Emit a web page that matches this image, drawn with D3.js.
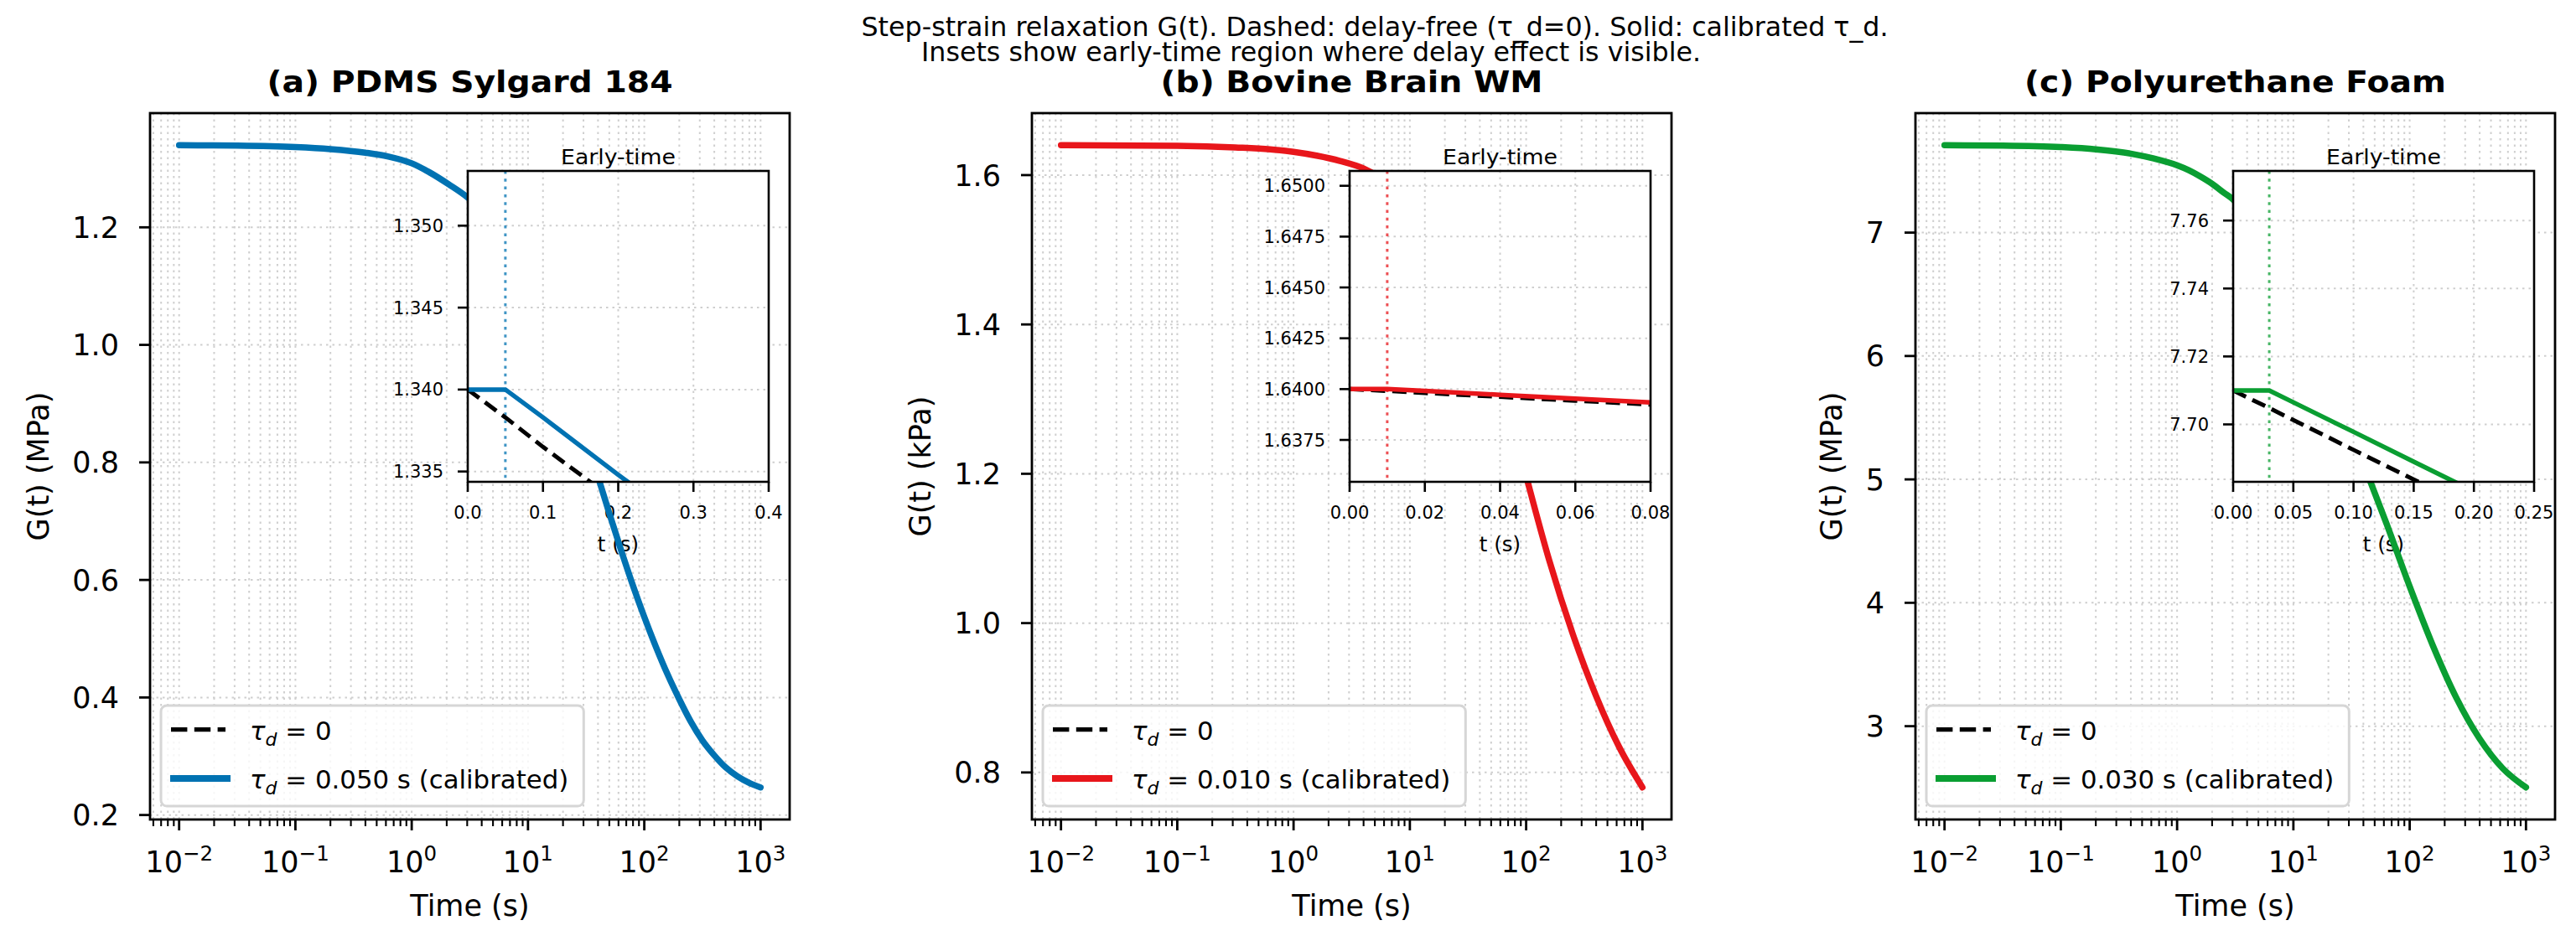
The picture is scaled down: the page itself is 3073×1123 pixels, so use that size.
<!DOCTYPE html>
<html><head><meta charset="utf-8">
<script src="https://cdn.jsdelivr.net/npm/d3@7"></script>
<style>
body{margin:0;background:#fff}
svg{display:block}
text{font-family:"DejaVu Sans",sans-serif;fill:#000}
</style>
</head><body>
<svg id="chart" width="3073" height="1123"></svg>
<script>
// ---------------- data ----------------
const suptitleLines = [
  "Step-strain relaxation G(t). Dashed: delay-free (\u03c4_d=0). Solid: calibrated \u03c4_d.",
  "Insets show early-time region where delay effect is visible."
];
const panelTitles = ["(a) PDMS Sylgard 184", "(b) Bovine Brain WM", "(c) Polyurethane Foam"];
const yAxisLabels = ["G(t) (MPa)", "G(t) (kPa)", "G(t) (MPa)"];
const xAxisLabel = "Time (s)";
const insetTitle = "Early-time";
const insetXLabel = "t (s)";
const tauD = [0.050, 0.010, 0.030];
const tauLabels = ["0.050", "0.010", "0.030"];
const seriesColors = ["#0072B2", "#E8161B", "#0A9E32"];

// main curves (time in s, G)
const timeA = [0.01,0.0316,0.1,0.2,0.4,0.63,1,1.41,2.09,3.02,3.98,5.01,6.31,7.94,10,12.6,15.8,20,25.1,31.6,39.8,50.1,63.1,79.4,100,126,158,200,251,316,398,501,631,794,1000];
const gA    = [1.3397,1.339,1.3365,1.333,1.327,1.3205,1.309,1.294,1.273,1.251,1.2295,1.206,1.178,1.145,1.107,1.064,1.0165,0.964,0.9065,0.844,0.777,0.713,0.651,0.592,0.537,0.486,0.440,0.397,0.359,0.327,0.302,0.281,0.266,0.255,0.247];
const timeB = [0.01,0.1,0.316,0.631,1,1.58,2.51,3.98,6.31,10,14.1,20,31.6,50.1,70.8,100,158,251,398,631,1000];
const gB    = [1.6400,1.6391,1.637,1.6345,1.631,1.626,1.619,1.609,1.5915,1.566,1.5385,1.503,1.441,1.360,1.286,1.197,1.084,0.986,0.903,0.834,0.780];
const timeC = [0.01,0.0316,0.1,0.2,0.4,0.631,1,1.26,1.58,2.0,2.51,3.1,3.98,6.31,10,15.8,25.1,39.8,63.1,100,158,251,398,631,1000];
const gC    = [7.708,7.705,7.693,7.675,7.640,7.600,7.545,7.505,7.455,7.395,7.325,7.26,7.129,6.814,6.446,6.039,5.600,5.134,4.644,4.132,3.655,3.233,2.901,2.658,2.504];

// inset (early-time) curves
const insetTimeA = [0, 0.05, 0.1, 0.2, 0.3, 0.4];
const insetFreeA = [1.3400, 1.3383, 1.3365, 1.3331, 1.3296, 1.3262];
const insetCalA  = [1.3400, 1.3400, 1.3383, 1.3348, 1.3314, 1.3279];
const insetTimeB = [0, 0.01, 0.02, 0.04, 0.06, 0.08];
const insetFreeB = [1.64000, 1.63991, 1.63981, 1.63962, 1.63943, 1.63924];
const insetCalB  = [1.64000, 1.64000, 1.63991, 1.63972, 1.63953, 1.63934];
const insetTimeC = [0, 0.03, 0.05, 0.1, 0.15, 0.2, 0.25];
const insetFreeC = [7.7100, 7.7048, 7.7013, 7.6925, 7.6838, 7.6750, 7.6663];
const insetCalC  = [7.7100, 7.7100, 7.7065, 7.6978, 7.6890, 7.6803, 7.6715];

// tick values
const xTickExponents = [-2, -1, 0, 1, 2, 3];
const yTicksA = [0.2, 0.4, 0.6, 0.8, 1.0, 1.2];
const yTicksB = [0.8, 1.0, 1.2, 1.4, 1.6];
const yTicksC = [3, 4, 5, 6, 7];
const insetXTicksA = [0, 0.1, 0.2, 0.3, 0.4];
const insetXTicksB = [0, 0.02, 0.04, 0.06, 0.08];
const insetXTicksC = [0, 0.05, 0.10, 0.15, 0.20, 0.25];
const insetYTicksA = [1.335, 1.340, 1.345, 1.350];
const insetYTicksB = [1.6375, 1.6400, 1.6425, 1.6450, 1.6475, 1.6500];
const insetYTicksC = [7.70, 7.72, 7.74, 7.76];
const insetYLimA = [1.33437, 1.35334];
const insetYLimB = [1.63544, 1.65073];
const insetYLimC = [7.6831, 7.7746];
const yTickFormats = [".1f", ".1f", "d"];
const insetXFormats = [".1f", ".2f", ".2f"];
const insetYFormats = [".3f", ".4f", ".2f"];

// ---------------- layout ----------------
const panels = [
  {t: timeA, g: gA, yTicks: yTicksA, it: insetTimeA, iFree: insetFreeA, iCal: insetCalA, ixTicks: insetXTicksA, iyTicks: insetYTicksA, iyLim: insetYLimA},
  {t: timeB, g: gB, yTicks: yTicksB, it: insetTimeB, iFree: insetFreeB, iCal: insetCalB, ixTicks: insetXTicksB, iyTicks: insetYTicksB, iyLim: insetYLimB},
  {t: timeC, g: gC, yTicks: yTicksC, it: insetTimeC, iFree: insetFreeC, iCal: insetCalC, ixTicks: insetXTicksC, iyTicks: insetYTicksC, iyLim: insetYLimC}
];
const W = 763, H = 843, TOP = 135;
const axLeft = [179, 1231, 2285];
const IN = {dx: 379, dy: 69, w: 359, h: 371};
const GRID = {stroke: "#cfcfcf", width: 2, dash: "2.5,5"};
const FS = {tick: 35, label: 35, title: 35, legend: 30.8, sup: 31.5, itick: 21, ilabel: 24.5, ititle: 24};
const titleWidths = [484, 456, 503];
const supWidths = [1225, 930];

const svg = d3.select("#chart");
svg.append("rect").attr("width", 3073).attr("height", 1123).attr("fill", "#fff");

// suptitle
const supCenters = [1640, 1564], supBase = [43, 73];
suptitleLines.forEach((s, k) => {
  svg.append("text").attr("x", supCenters[k]).attr("y", supBase[k])
    .attr("text-anchor", "middle").attr("font-size", FS.sup)
    .attr("textLength", supWidths[k]).attr("lengthAdjust", "spacingAndGlyphs").text(s);
});

panels.forEach((p, i) => {
  const color = seriesColors[i];
  const g = svg.append("g").attr("transform", `translate(${axLeft[i]},${TOP})`);
  const x = d3.scaleLog().domain([10 ** -2.25, 10 ** 3.25]).range([0, W]);
  const [lo, hi] = d3.extent(p.g);
  const pad = (hi - lo) * 0.05;
  const y = d3.scaleLinear().domain([lo - pad, hi + pad]).range([H, 0]);

  g.append("rect").attr("width", W).attr("height", H).attr("fill", "#fff");

  // grid: x major+minor, y major
  const xMajor = xTickExponents.map(e => 10 ** e);
  const xMinor = [];
  for (let k = -3; k <= 3; k++) for (let m = 2; m <= 9; m++) {
    const v = m * 10 ** k;
    if (v >= x.domain()[0] && v <= x.domain()[1]) xMinor.push(v);
  }
  const grid = g.append("g").attr("stroke", GRID.stroke).attr("stroke-width", GRID.width)
    .attr("stroke-dasharray", GRID.dash);
  grid.selectAll(".gx").data(xMajor.concat(xMinor)).join("line")
    .attr("x1", d => x(d)).attr("x2", d => x(d)).attr("y1", 0).attr("y2", H);
  grid.selectAll(".gy").data(p.yTicks).join("line")
    .attr("x1", 0).attr("x2", W).attr("y1", d => y(d)).attr("y2", d => y(d));

  // inset scales
  const xi = d3.scaleLinear().domain([0, d3.max(p.ixTicks)]).range([0, IN.w]);
  const yi = d3.scaleLinear().domain(p.iyLim).range([IN.h, 0]);

  // inset text (drawn beneath main curve)
  const il = g.append("g").attr("transform", `translate(${IN.dx},${IN.dy})`);
  il.selectAll(".ixl").data(p.ixTicks).join("text")
    .attr("x", d => xi(d)).attr("y", IN.h + 44).attr("text-anchor", "middle")
    .attr("font-size", FS.itick).text(d3.format(insetXFormats[i]));
  il.selectAll(".iyl").data(p.iyTicks).join("text")
    .attr("x", -29).attr("y", d => yi(d)).attr("dy", "0.36em").attr("text-anchor", "end")
    .attr("font-size", FS.itick).text(d3.format(insetYFormats[i]));
  il.append("text").attr("x", IN.w / 2).attr("y", IN.h + 83).attr("text-anchor", "middle")
    .attr("font-size", FS.ilabel).text(insetXLabel);
  il.append("text").attr("x", IN.w / 2).attr("y", -8).attr("text-anchor", "middle")
    .attr("font-size", FS.ititle).attr("textLength", 137).attr("lengthAdjust", "spacingAndGlyphs")
    .text(insetTitle);

  // main curves
  const clipId = "clipMain" + i;
  g.append("clipPath").attr("id", clipId).append("rect").attr("width", W).attr("height", H);
  const pts = p.t.map((t, k) => [t, p.g[k]]);
  const line = d3.line().x(d => x(d[0])).y(d => y(d[1])).curve(d3.curveMonotoneX);
  g.append("path").datum(pts).attr("clip-path", `url(#${clipId})`).attr("d", line)
    .attr("fill", "none").attr("stroke", "#000").attr("stroke-width", 5.25)
    .attr("stroke-dasharray", "19.4,8.4");
  g.append("path").datum(pts).attr("clip-path", `url(#${clipId})`).attr("d", line)
    .attr("fill", "none").attr("stroke", color).attr("stroke-width", 7.5)
    .attr("stroke-linejoin", "round").attr("stroke-linecap", "round");

  // inset body
  const ib = g.append("g").attr("transform", `translate(${IN.dx},${IN.dy})`);
  ib.append("rect").attr("width", IN.w).attr("height", IN.h).attr("fill", "#fff");
  const ig = ib.append("g").attr("stroke", GRID.stroke).attr("stroke-width", GRID.width)
    .attr("stroke-dasharray", GRID.dash);
  ig.selectAll(".igx").data(p.ixTicks).join("line")
    .attr("x1", d => xi(d)).attr("x2", d => xi(d)).attr("y1", 0).attr("y2", IN.h);
  ig.selectAll(".igy").data(p.iyTicks).join("line")
    .attr("x1", 0).attr("x2", IN.w).attr("y1", d => yi(d)).attr("y2", d => yi(d));
  const clipIn = "clipInset" + i;
  ib.append("clipPath").attr("id", clipIn).append("rect").attr("width", IN.w).attr("height", IN.h);
  const cl = ib.append("g").attr("clip-path", `url(#${clipIn})`);
  cl.append("line").attr("x1", xi(tauD[i])).attr("x2", xi(tauD[i])).attr("y1", 0).attr("y2", IN.h)
    .attr("stroke", color).attr("stroke-width", 3).attr("stroke-dasharray", "3.5,5.8").attr("opacity", 0.75);
  const iline = d3.line().x(d => xi(d[0])).y(d => yi(d[1]));
  cl.append("path").datum(p.it.map((t, k) => [t, p.iFree[k]])).attr("d", iline)
    .attr("fill", "none").attr("stroke", "#000").attr("stroke-width", 5).attr("stroke-dasharray", "17,8.5");
  cl.append("path").datum(p.it.map((t, k) => [t, p.iCal[k]])).attr("d", iline)
    .attr("fill", "none").attr("stroke", color).attr("stroke-width", 5.5);
  ib.append("rect").attr("width", IN.w).attr("height", IN.h).attr("fill", "none")
    .attr("stroke", "#000").attr("stroke-width", 2.6);
  ib.selectAll(".itx").data(p.ixTicks).join("line")
    .attr("x1", d => xi(d)).attr("x2", d => xi(d)).attr("y1", IN.h).attr("y2", IN.h + 12)
    .attr("stroke", "#000").attr("stroke-width", 2.6);
  ib.selectAll(".ity").data(p.iyTicks).join("line")
    .attr("x1", -12).attr("x2", 0).attr("y1", d => yi(d)).attr("y2", d => yi(d))
    .attr("stroke", "#000").attr("stroke-width", 2.6);

  // legend
  const lg = g.append("g").attr("transform", `translate(13,${842 - TOP})`);
  const box = lg.append("rect").attr("height", 120).attr("rx", 7)
    .attr("fill", "#fff").attr("fill-opacity", 0.8).attr("stroke", "#d6d6d6").attr("stroke-width", 3);
  lg.append("line").attr("x1", 12).attr("x2", 77).attr("y1", 28.6).attr("y2", 28.6)
    .attr("stroke", "#000").attr("stroke-width", 5.25).attr("stroke-dasharray", "19.4,8.4");
  lg.append("line").attr("x1", 11).attr("x2", 83).attr("y1", 87).attr("y2", 87)
    .attr("stroke", color).attr("stroke-width", 8);
  const legendRows = [" = 0", " = " + tauLabels[i] + " s (calibrated)"];
  const rowBase = [41, 99];
  let maxEnd = 0;
  legendRows.forEach((r, k) => {
    const t = lg.append("text").attr("x", 106).attr("y", rowBase[k]).attr("font-size", FS.legend);
    t.append("tspan").attr("font-style", "italic").text("\u03c4");
    t.append("tspan").attr("font-style", "italic").attr("font-size", 22).attr("dy", 7).text("d");
    t.append("tspan").attr("dy", -7).text(r);
    maxEnd = Math.max(maxEnd, 106 + t.node().getComputedTextLength());
  });
  box.attr("width", maxEnd + 18);

  // spines
  g.append("rect").attr("width", W).attr("height", H).attr("fill", "none")
    .attr("stroke", "#000").attr("stroke-width", 2.8);

  // x ticks
  g.selectAll(".xmaj").data(xMajor).join("line")
    .attr("x1", d => x(d)).attr("x2", d => x(d)).attr("y1", H).attr("y2", H + 13)
    .attr("stroke", "#000").attr("stroke-width", 2.8);
  g.selectAll(".xmin").data(xMinor).join("line")
    .attr("x1", d => x(d)).attr("x2", d => x(d)).attr("y1", H).attr("y2", H + 8)
    .attr("stroke", "#000").attr("stroke-width", 2.1);
  xTickExponents.forEach(e => {
    const t = g.append("text").attr("x", x(10 ** e)).attr("y", H + 63)
      .attr("text-anchor", "middle").attr("font-size", FS.tick);
    t.append("tspan").text("10");
    t.append("tspan").attr("dy", -14).attr("font-size", 24.5)
      .text((e < 0 ? "\u2212" : "") + Math.abs(e));
  });
  g.append("text").attr("x", W / 2).attr("y", H + 115).attr("text-anchor", "middle")
    .attr("font-size", FS.label).text(xAxisLabel);

  // y ticks
  g.selectAll(".ytk").data(p.yTicks).join("line")
    .attr("x1", -13).attr("x2", 0).attr("y1", d => y(d)).attr("y2", d => y(d))
    .attr("stroke", "#000").attr("stroke-width", 2.8);
  const yl = g.append("g");
  yl.selectAll("text").data(p.yTicks).join("text")
    .attr("x", -37).attr("y", d => y(d)).attr("dy", "0.36em").attr("text-anchor", "end")
    .attr("font-size", FS.tick).text(d3.format(yTickFormats[i]));
  const minX = yl.node().getBBox().x;
  g.append("text").attr("transform", `translate(${minX - 41},${H / 2}) rotate(-90)`)
    .attr("text-anchor", "middle").attr("dy", "0.36em").attr("font-size", FS.label).text(yAxisLabels[i]);

  // title
  g.append("text").attr("x", W / 2).attr("y", 110 - TOP).attr("text-anchor", "middle")
    .attr("font-size", FS.title).attr("font-weight", "bold")
    .attr("textLength", titleWidths[i]).attr("lengthAdjust", "spacingAndGlyphs").text(panelTitles[i]);
});
</script>
</body></html>
